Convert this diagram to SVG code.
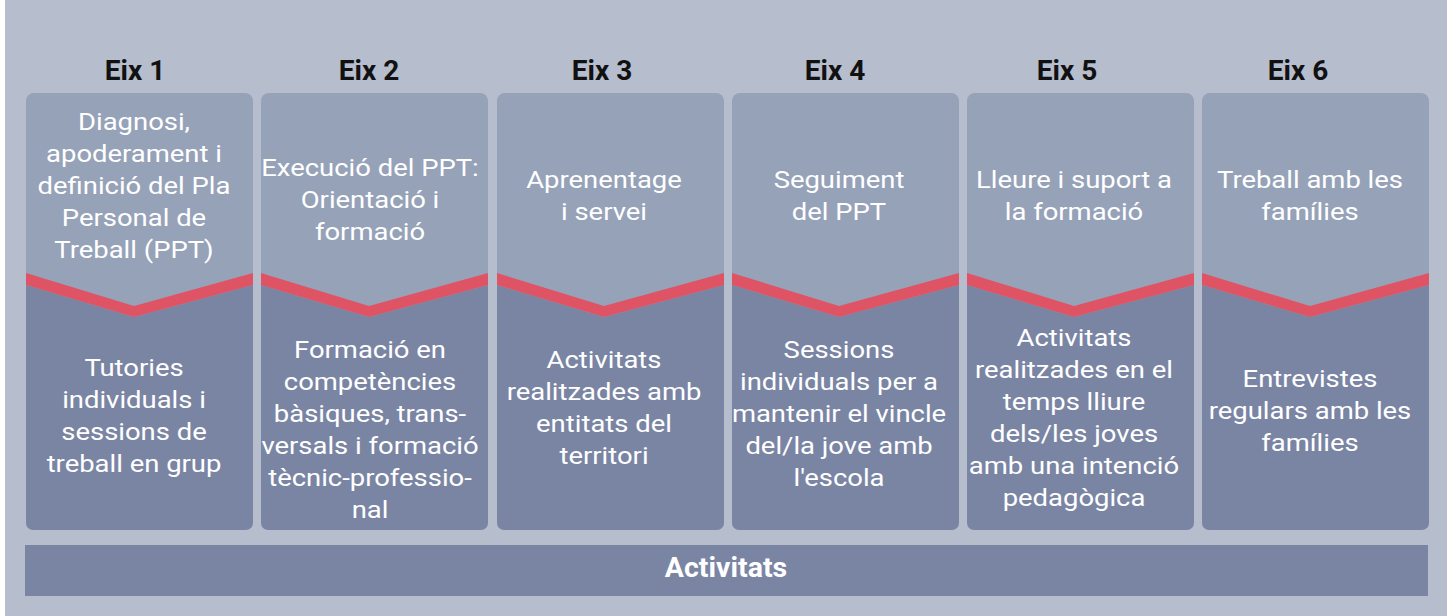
<svg xmlns="http://www.w3.org/2000/svg" width="1452" height="616" viewBox="0 0 1452 616">
<style>
.bg{fill:#b6bdcd}
.top{fill:#96a2b8}
.bot{fill:#7a85a4}
.band{fill:#df5464}
.eix{font-family:Roboto,"Liberation Sans",sans-serif;font-weight:bold;font-size:28px;fill:#111;text-anchor:middle}
.t{font-family:Roboto,"Liberation Sans",sans-serif;font-size:24.5px;fill:#fff;text-anchor:middle}
.act{font-family:Roboto,"Liberation Sans",sans-serif;font-weight:bold;font-size:28.5px;fill:#fff;text-anchor:middle}
</style>
<rect x="0" y="0" width="1452" height="616" fill="#fff"/>
<rect class="bg" x="5" y="0" width="1442" height="616"/>

<g id="eix1">
<text class="eix" x="135" y="80">Eix 1</text>
<rect class="top" x="26" y="93" width="227" height="437" rx="8"/>
<path class="bot" d="M26,285 L134,317 L253,285 L253,522 Q253,530 245,530 L34,530 Q26,530 26,522 Z"/>
<path class="band" d="M26,273 L134,306 L253,273 L253,285 L134,317 L26,285 Z"/>
<g transform="translate(134,0) scale(1.12,1)">
<text class="t" x="0" y="130">Diagnosi,</text>
<text class="t" x="0" y="162">apoderament i</text>
<text class="t" x="0" y="194">definició del Pla</text>
<text class="t" x="0" y="226">Personal de</text>
<text class="t" x="0" y="258">Treball (PPT)</text>
<text class="t" x="0" y="376">Tutories</text>
<text class="t" x="0" y="408">individuals i</text>
<text class="t" x="0" y="440">sessions de</text>
<text class="t" x="0" y="472">treball en grup</text>
</g>
</g>

<g id="eix2">
<text class="eix" x="369" y="80">Eix 2</text>
<rect class="top" x="261" y="93" width="227" height="437" rx="8"/>
<path class="bot" d="M261,285 L369,317 L488,285 L488,522 Q488,530 480,530 L269,530 Q261,530 261,522 Z"/>
<path class="band" d="M261,273 L369,306 L488,273 L488,285 L369,317 L261,285 Z"/>
<g transform="translate(370,0) scale(1.12,1)">
<text class="t" x="0" y="176">Execució del PPT:</text>
<text class="t" x="0" y="208">Orientació i</text>
<text class="t" x="0" y="240">formació</text>
<text class="t" x="0" y="358">Formació en</text>
<text class="t" x="0" y="390">competències</text>
<text class="t" x="0" y="422">bàsiques, trans-</text>
<text class="t" x="0" y="454">versals i formació</text>
<text class="t" x="0" y="486">tècnic-professio-</text>
<text class="t" x="0" y="518">nal</text>
</g>
</g>

<g id="eix3">
<text class="eix" x="602" y="80">Eix 3</text>
<rect class="top" x="497" y="93" width="227" height="437" rx="8"/>
<path class="bot" d="M497,285 L604,317 L724,285 L724,522 Q724,530 716,530 L505,530 Q497,530 497,522 Z"/>
<path class="band" d="M497,273 L604,306 L724,273 L724,285 L604,317 L497,285 Z"/>
<g transform="translate(604,0) scale(1.12,1)">
<text class="t" x="0" y="188">Aprenentage</text>
<text class="t" x="0" y="220">i servei</text>
<text class="t" x="0" y="368">Activitats</text>
<text class="t" x="0" y="400">realitzades amb</text>
<text class="t" x="0" y="432">entitats del</text>
<text class="t" x="0" y="464">territori</text>
</g>
</g>

<g id="eix4">
<text class="eix" x="835" y="80">Eix 4</text>
<rect class="top" x="732" y="93" width="227" height="437" rx="8"/>
<path class="bot" d="M732,285 L839,317 L959,285 L959,522 Q959,530 951,530 L740,530 Q732,530 732,522 Z"/>
<path class="band" d="M732,273 L839,306 L959,273 L959,285 L839,317 L732,285 Z"/>
<g transform="translate(839,0) scale(1.12,1)">
<text class="t" x="0" y="188">Seguiment</text>
<text class="t" x="0" y="220">del PPT</text>
<text class="t" x="0" y="358">Sessions</text>
<text class="t" x="0" y="390">individuals per a</text>
<text class="t" x="0" y="422">mantenir el vincle</text>
<text class="t" x="0" y="454">del/la jove amb</text>
<text class="t" x="0" y="486">l'escola</text>
</g>
</g>

<g id="eix5">
<text class="eix" x="1067" y="80">Eix 5</text>
<rect class="top" x="967" y="93" width="227" height="437" rx="8"/>
<path class="bot" d="M967,285 L1074,317 L1194,285 L1194,522 Q1194,530 1186,530 L975,530 Q967,530 967,522 Z"/>
<path class="band" d="M967,273 L1074,306 L1194,273 L1194,285 L1074,317 L967,285 Z"/>
<g transform="translate(1074,0) scale(1.12,1)">
<text class="t" x="0" y="188">Lleure i suport a</text>
<text class="t" x="0" y="220">la formació</text>
<text class="t" x="0" y="346">Activitats</text>
<text class="t" x="0" y="378">realitzades en el</text>
<text class="t" x="0" y="410">temps lliure</text>
<text class="t" x="0" y="442">dels/les joves</text>
<text class="t" x="0" y="474">amb una intenció</text>
<text class="t" x="0" y="506">pedagògica</text>
</g>
</g>

<g id="eix6">
<text class="eix" x="1298" y="80">Eix 6</text>
<rect class="top" x="1202" y="93" width="227" height="437" rx="8"/>
<path class="bot" d="M1202,285 L1310,317 L1429,285 L1429,522 Q1429,530 1421,530 L1210,530 Q1202,530 1202,522 Z"/>
<path class="band" d="M1202,273 L1310,306 L1429,273 L1429,285 L1310,317 L1202,285 Z"/>
<g transform="translate(1310,0) scale(1.12,1)">
<text class="t" x="0" y="188">Treball amb les</text>
<text class="t" x="0" y="220">famílies</text>
<text class="t" x="0" y="387">Entrevistes</text>
<text class="t" x="0" y="419">regulars amb les</text>
<text class="t" x="0" y="451">famílies</text>
</g>
</g>

<g id="activitats">
<rect class="bot" x="25" y="545" width="1403" height="51"/>
<text class="act" x="726" y="577">Activitats</text>
</g>
<g id="connectors"/>
</svg>
